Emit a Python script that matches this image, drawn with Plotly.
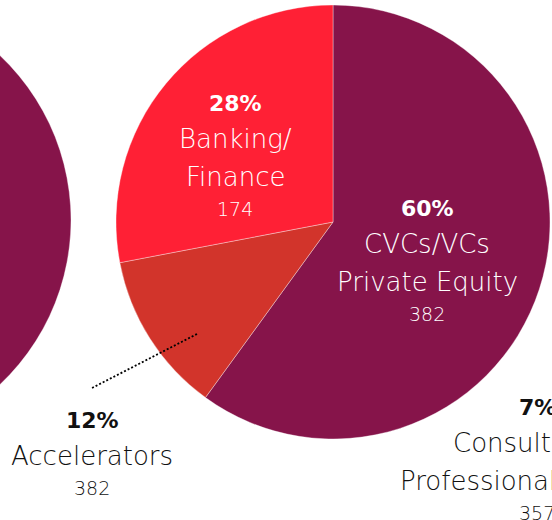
import plotly.graph_objects as go
import math

# ---------------- data ----------------
main_labels = ["CVCs/VCs<br>Private Equity", "Accelerators", "Banking/<br>Finance"]
main_pct = [60, 12, 28]
main_counts = [382, 382, 174]

left_labels = ["Segment A", "Segment B", "Segment C"]
left_pct = [64, 24, 12]

right_labels = ["Segment A", "Consultancy/<br>Professional Services", "Segment C"]
right_pct = [63, 7, 30]
right_counts = [0, 357, 0]

# ---------------- style ----------------
MAGENTA = "#86144A"
ORANGE = "#D2342B"
RED = "#FF2035"
colors = [MAGENTA, ORANGE, RED]

W, H = 1500, 640          # full figure; the page shows a 552x520 window of it
SX, SY = 400, 20          # window offset inside the figure

FONT = "DejaVu Sans"
TXT_SIZE, PCT_SIZE, CNT_SIZE = 26, 22, 19

def paper(wx, wy):
    return (wx + SX) / W, 1 - (wy + SY) / H

def domain(cx, cy, r):
    return dict(x=[(cx - r + SX) / W, (cx + r + SX) / W],
                y=[1 - (cy + r + SY) / H, 1 - (cy - r + SY) / H])

pies = {
    "left": dict(c=(-155, 220), r=226),
    "main": dict(c=(333, 222), r=217),
    "right": dict(c=(800, 222), r=217),
}

fig = go.Figure()
for key, labels, vals in [("left", left_labels, left_pct),
                          ("main", main_labels, main_pct),
                          ("right", right_labels, right_pct)]:
    p = pies[key]
    fig.add_trace(go.Pie(
        labels=labels, values=vals, sort=False, direction="clockwise", rotation=0,
        marker=dict(colors=colors, line=dict(color="rgba(255,255,255,0.45)", width=0.8)),
        textinfo="none", hoverinfo="skip", showlegend=False,
        domain=domain(p["c"][0], p["c"][1], p["r"]),
    ))

annotations = []
shapes = []

def add_block(cx, cy, pct, name, count, color):
    name_lines = name.split("<br>")
    ys = [0]
    for i in range(len(name_lines)):
        ys.append(36 + 37.5 * i)
    ys.append(ys[-1] + 32)
    mid = (ys[0] + ys[-1]) / 2
    items = [(f"<b>{pct}%</b>", PCT_SIZE, 700)] + \
            [(t, TXT_SIZE, 200) for t in name_lines] + \
            [(str(count), CNT_SIZE, 200)]
    for (txt, size, wt), y in zip(items, ys):
        x, yy = paper(cx, cy + y - mid + 1)
        annotations.append(dict(
            x=x, y=yy, xref="paper", yref="paper", text=txt, showarrow=False,
            xanchor="center", yanchor="middle",
            font=dict(family=FONT, size=size, color=color, weight=wt)))
    return cy + ys[0] - mid

# label block centre offsets (px, relative to pie centre)
main_offsets = [(94, 38), (-241, 231), (-98, -67)]
main_inside = [True, False, True]
mc = pies["main"]["c"]
for i in range(3):
    ox, oy = main_offsets[i]
    col = "white" if main_inside[i] else "#111111"
    top = add_block(mc[0] + ox, mc[1] + oy, main_pct[i], main_labels[i], main_counts[i], col)
    if not main_inside[i]:
        # dotted leader line from slice to label
        x0, y0 = paper(mc[0] - 136, mc[1] + 112)
        x1, y1 = paper(mc[0] + ox, top - 31)
        shapes.append(dict(type="line", xref="paper", yref="paper",
                           x0=x0, y0=y0, x1=x1, y1=y1,
                           line=dict(color="black", width=1.8, dash="2px,2px")))

rc = pies["right"]["c"]
add_block(rc[0] - 263, rc[1] + 237, right_pct[1], right_labels[1], right_counts[1], "#111111")

fig.update_layout(
    width=W, height=H, margin=dict(l=0, r=0, t=0, b=0),
    paper_bgcolor="white", plot_bgcolor="white",
    annotations=annotations, shapes=shapes,
)

post = (
    "var d=document.getElementById('{plot_id}');"
    "d.style.position='absolute';d.style.left='-%dpx';d.style.top='-%dpx';"
    "document.body.style.margin='0';document.body.style.overflow='hidden';"
    "document.documentElement.style.overflow='hidden';" % (SX, SY)
)
fig.write_html("out.html", config={"displayModeBar": False}, post_script=post)
